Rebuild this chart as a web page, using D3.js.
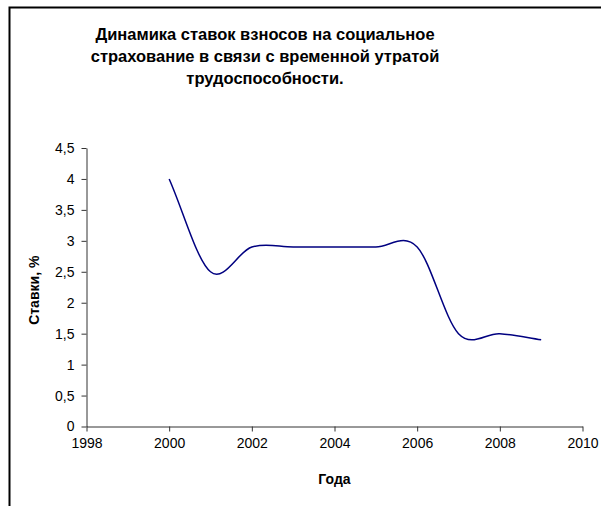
<!DOCTYPE html>
<html>
<head>
<meta charset="utf-8">
<script src="https://cdn.jsdelivr.net/npm/d3@7"></script>
<style>
    body { margin: 0; background: #fff; }
    svg { display: block; font-family: "Liberation Sans", Arial, sans-serif; }
</style>
</head>
<body>
<div id="chart"></div>
<script>
// data
const years = [2000, 2001, 2002, 2003, 2004, 2005, 2006, 2007, 2008, 2009];
const rates = [4, 2.5, 2.9, 2.9, 2.9, 2.9, 2.9, 1.5, 1.5, 1.4];
const titleLines = [
    'Динамика ставок взносов на социальное',
    'страхование в связи с временной утратой',
    'трудоспособности.'
];
const xTicks = [1998, 2000, 2002, 2004, 2006, 2008, 2010];
const yTicks = [0, 0.5, 1, 1.5, 2, 2.5, 3, 3.5, 4, 4.5];

const width = 601;
const height = 506;
const margin = { top: 148, right: 18.5, bottom: 79.5, left: 86.5 };
const plotW = width - margin.left - margin.right;
const plotH = height - margin.top - margin.bottom;

// Excel-like smoothing: central-difference tangents, chord tangents at the ends
const excelSmooth = (context) => {
    let xs = [];
    let ys = [];
    return {
        areaStart() {},
        areaEnd() {},
        lineStart() { xs = []; ys = []; },
        point(x, y) { xs.push(+x); ys.push(+y); },
        lineEnd() {
            const n = xs.length;
            if (n === 0) {
                return;
            }
            context.moveTo(xs[0], ys[0]);
            const tan = (i, arr) => {
                if (i === 0) return arr[1] - arr[0];
                if (i === n - 1) return arr[n - 1] - arr[n - 2];
                return (arr[i + 1] - arr[i - 1]) / 2;
            };
            for (let i = 0; i < n - 1; i++) {
                context.bezierCurveTo(
                    xs[i] + tan(i, xs) / 3, ys[i] + tan(i, ys) / 3,
                    xs[i + 1] - tan(i + 1, xs) / 3, ys[i + 1] - tan(i + 1, ys) / 3,
                    xs[i + 1], ys[i + 1]
                );
            }
        }
    };
};

const svg = d3.select('#chart')
    .append('svg')
    .attr('width', width)
    .attr('height', height);

// chart frame, only the left and top edges are in view
svg.append('rect')
    .attr('x', 9.5)
    .attr('y', 7.5)
    .attr('width', 700)
    .attr('height', 600)
    .attr('fill', 'none')
    .attr('stroke', '#000')
    .attr('stroke-width', 2);

// title
svg.append('text')
    .attr('text-anchor', 'middle')
    .attr('font-size', 16.5)
    .attr('font-weight', 'bold')
    .selectAll('tspan')
    .data(titleLines)
    .enter()
    .append('tspan')
    .attr('x', 265)
    .attr('y', (d, i) => 40 + i * 22)
    .text(d => d);

const xScale = d3.scaleLinear()
    .domain([1998, 2010])
    .range([0, plotW]);

const yScale = d3.scaleLinear()
    .domain([0, 4.5])
    .range([plotH, 0]);

const g = svg.append('g')
    .attr('transform', `translate(${margin.left},${margin.top})`);

const fmt = d => String(d).replace('.', ',');

// x-axis
const xAxis = d3.axisBottom(xScale)
    .tickValues(xTicks)
    .tickFormat(d => d)
    .tickSizeInner(5)
    .tickSizeOuter(0)
    .tickPadding(7);
g.append('g')
    .attr('transform', `translate(0,${plotH})`)
    .call(xAxis);

// y-axis
const yAxis = d3.axisLeft(yScale)
    .tickValues(yTicks)
    .tickFormat(fmt)
    .tickSizeInner(5)
    .tickSizeOuter(0)
    .tickPadding(7);
g.append('g')
    .call(yAxis);

g.selectAll('.domain, .tick line')
    .attr('stroke', '#333');
g.selectAll('.tick text')
    .attr('font-size', 14)
    .attr('font-family', '"Liberation Sans", Arial, sans-serif')
    .attr('fill', '#000');

const line = d3.line()
    .x((d, i) => xScale(years[i]))
    .y(d => yScale(d))
    .curve(excelSmooth);

g.append('path')
    .datum(rates)
    .attr('fill', 'none')
    .attr('stroke', '#000080')
    .attr('stroke-width', 1.5)
    .attr('d', line);

// axis titles
svg.append('text')
    .attr('x', margin.left + plotW / 2)
    .attr('y', 484)
    .attr('text-anchor', 'middle')
    .attr('font-size', 14)
    .attr('font-weight', 'bold')
    .text('Года');

svg.append('text')
    .attr('transform', `translate(39,${margin.top + plotH / 2 + 3}) rotate(-90)`)
    .attr('text-anchor', 'middle')
    .attr('font-size', 14)
    .attr('font-weight', 'bold')
    .text('Ставки, %');
</script>
</body>
</html>
